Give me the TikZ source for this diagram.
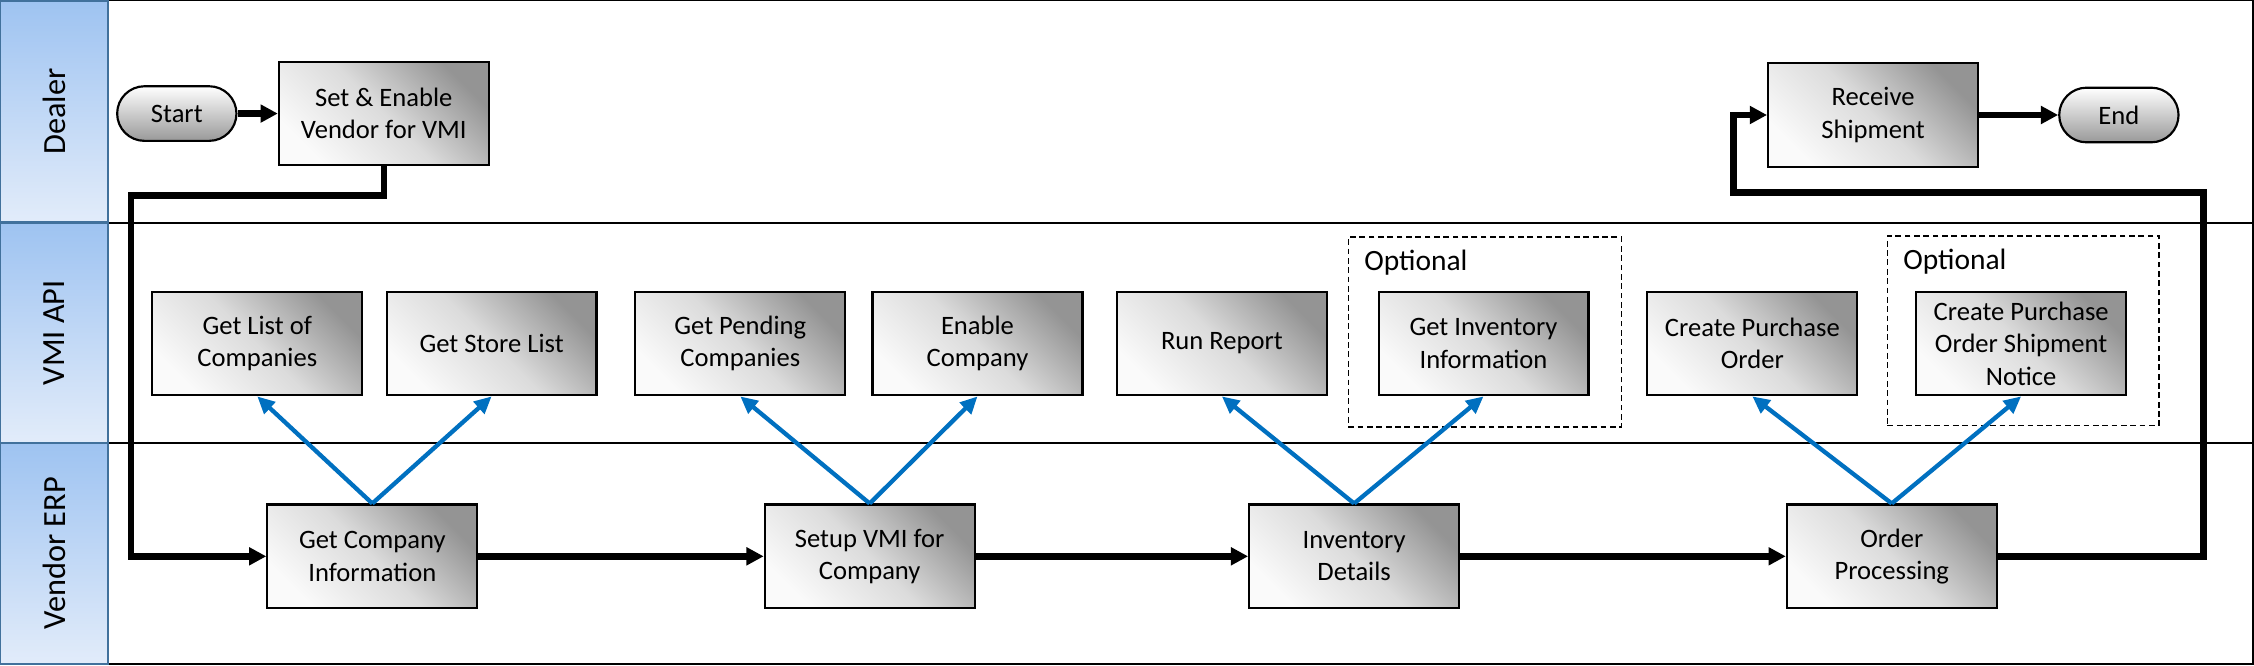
\documentclass[tikz,border=0pt]{standalone}
\usepackage{fontspec}
\setmainfont{Carlito}
\usetikzlibrary{arrows.meta,shapes}

\definecolor{apiblue}{HTML}{0070C0}
\definecolor{lanetop}{HTML}{9EC3F1}
\definecolor{lanebot}{HTML}{E2ECFA}
\definecolor{laneline}{HTML}{41719C}

\begin{document}
\begin{tikzpicture}[x=1pt, y=-1pt, >={Triangle[length=12pt,width=12pt]},
                    node distance=163pt, semithick,
                    font=\fontsize{18.5}{22.6}\selectfont]
  \tikzstyle{lane}=[rectangle, rotate=90, draw=laneline, line width=1.5pt,
                    top color=lanetop, bottom color=lanebot, minimum height=75pt,
                    inner sep=0pt, font=\fontsize{22.5}{27}\selectfont]
  \tikzstyle{task}=[rectangle, draw=black, line width=1.5pt, top color=black!42,
                    bottom color=black!2, middle color=black!14, shading angle=-45,
                    minimum width=146pt, minimum height=72pt, align=center, inner sep=1pt]
  \tikzstyle{term}=[rectangle, rounded corners=19pt, draw=black, line width=1.5pt,
                    top color=white, bottom color=black!40, minimum width=83pt,
                    minimum height=38pt]
  \tikzstyle{optional}=[rectangle, draw=black, line width=1.2pt,
                        dash pattern=on 4pt off 2.5pt]
  \tikzstyle{flow}=[line width=4.5pt]
  \tikzstyle{call}=[color=apiblue, line width=3pt, -{Triangle[length=12pt,width=11pt]}]

  \useasboundingbox (0,0) rectangle (1568,463);
  \draw[line width=1.5pt] (75,0) rectangle (1567,462);
  \draw[line width=1.5pt] (75,155) -- (1567,155) (75,308) -- (1567,308);

	\node[lane, minimum width=154pt]	(31) at (37.5,77.5)	{Dealer};
	\node[lane, minimum width=153pt]	(32) at (37.5,231.5)	{VMI API};
	\node[lane, minimum width=154pt]	(33) at (37.5,385)	{Vendor ERP};

	\node[term]	(0)	at (123,79)						{Start};
	\node[task]	(1)	[right of=0, node distance=144pt]	{Set \& Enable\\Vendor for VMI};
	\node[task]	(9)	at (1303,80)						{Receive\\Shipment};
	\node[term]	(10)	[right of=9, node distance=171pt]	{End};

	\node[optional, minimum width=190pt, minimum height=132pt]	(5) at (1033,231) {};
	\node[anchor=north west, font=\fontsize{20.5}{24}\selectfont]	(6) at ([xshift=8pt,yshift=-6pt]5.north west)	{Optional};
	\node[optional, minimum width=189pt, minimum height=132pt]	(7) at (1407.5,230) {};
	\node[anchor=north west, font=\fontsize{20.5}{24}\selectfont]	(8) at ([xshift=8pt,yshift=-6pt]7.north west)	{Optional};

	\node[task]	(11)	at (179,239)						{Get List of\\Companies};
	\node[task]	(12)	[right of=11]						{Get Store List};
	\node[task]	(13)	[right of=12, node distance=173pt]	{Get Pending\\Companies};
	\node[task]	(14)	[right of=13, node distance=165pt]	{Enable\\Company};
	\node[task]	(15)	[right of=14, node distance=170pt]	{Run Report};
	\node[task]	(16)	[right of=15, node distance=182pt]	{Get Inventory\\Information};
	\node[task]	(17)	[right of=16, node distance=187pt]	{Create Purchase\\Order};
	\node[task]	(18)	[right of=17, node distance=187pt]	{Create Purchase\\Order Shipment\\Notice};

	\node[task]	(21)	at (259,387)						{Get Company\\Information};
	\node[task]	(22)	[right of=21, node distance=346pt]	{Setup VMI for\\Company};
	\node[task]	(23)	[right of=22, node distance=337pt]	{Inventory\\Details};
	\node[task]	(24)	[right of=23, node distance=374pt]	{Order\\Processing};

	\coordinate (2) at (91,136);
	\coordinate (3) at (1533,134);
	\coordinate (4) at (1206,80);

	\path[->, flow]
    (0)  edge (1)
    (21) edge (22)
    (22) edge (23)
    (23) edge (24)
    (9)  edge (10);
	\draw[->, flow] (1) |- (2) |- (21);
	\draw[->, flow] (24) -| (3) -| (4) -- (9);

	\path[call]
    (21.north) edge (11.south)
               edge (12.south)
    (22.north) edge (13.south)
               edge (14.south)
    (23.north) edge (15.south)
               edge (16.south)
    (24.north) edge (17.south)
               edge (18.south);

\end{tikzpicture}
\end{document}
